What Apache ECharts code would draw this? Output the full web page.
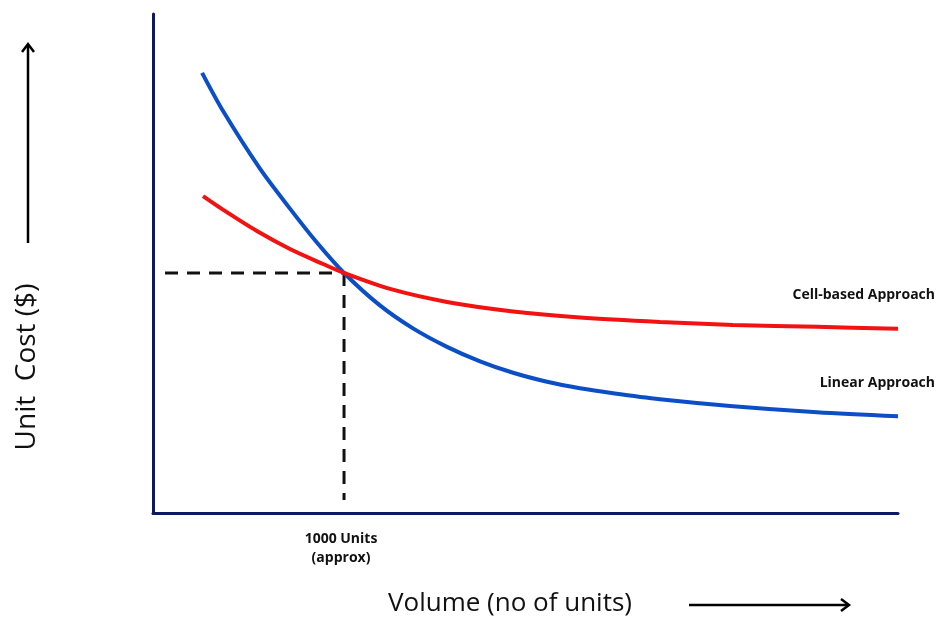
<!DOCTYPE html>
<html>
<head>
<meta charset="utf-8">
<script src="https://cdn.jsdelivr.net/npm/echarts@6/dist/echarts.min.js"></script>
<style>
  html, body { margin: 0; padding: 0; background: #fff; }
  #chart { width: 937px; height: 619px; }
</style>
</head>
<body>
<div id="chart"></div>
<script>
"use strict"
// volume (arbitrary units, crossover at 1000) and unit cost (0-100 scale)
const linearVolume = [257, 366, 560, 717, 858, 1000, 1188, 1361, 1539, 1712, 1885, 2063, 2235, 2408, 2654, 3036, 3476, 3900];
const linearCost   = [88.2, 80.6, 69.0, 61.0, 54.2, 48.1, 41.6, 37.0, 33.3, 30.4, 28.1, 26.3, 25.0, 24.0, 22.8, 21.4, 20.2, 19.4];
const cellVolume = [262, 366, 544, 717, 890, 1000, 1241, 1539, 1885, 2235, 2654, 3036, 3476, 3900];
const cellCost   = [63.5, 60.8, 56.5, 52.9, 49.9, 48.1, 44.9, 42.3, 40.4, 39.2, 38.3, 37.7, 37.3, 36.9];
const crossVolume = 1000;
const crossCost = 48.1;
const guideStart = 63;    // where horizontal dashed line begins
const guideBottom = 2.6;  // where vertical dashed line ends

const axisColor = '#0c1a60';
const font = '"Open Sans", sans-serif';

let chart = echarts.init(document.getElementById("chart"));

function zip(xs, ys) {
    return xs.map(function (x, i) { return [x, ys[i]]; });
}

let option = {
    backgroundColor: '#fff',
    animation: false,
    grid: { left: 153, top: 14, right: 39, bottom: 106 },
    xAxis: {
        type: 'value', min: 0, max: 3900,
        axisLine: { show: true, lineStyle: { color: axisColor, width: 3 } },
        axisTick: { show: false }, axisLabel: { show: false }, splitLine: { show: false }
    },
    yAxis: {
        type: 'value', min: 0, max: 100,
        axisLine: { show: true, lineStyle: { color: axisColor, width: 3 } },
        axisTick: { show: false }, axisLabel: { show: false }, splitLine: { show: false }
    },
    series: [
        {
            name: 'Guide H', type: 'line', symbol: 'none', silent: true,
            data: [[guideStart, crossCost], [crossVolume, crossCost]],
            lineStyle: { color: '#111', width: 3, type: [13, 9] }
        },
        {
            name: 'Guide V', type: 'line', symbol: 'none', silent: true,
            data: [[crossVolume, crossCost], [crossVolume, guideBottom]],
            lineStyle: { color: '#111', width: 3, type: [13, 9] }
        },
        {
            name: 'Linear Approach', type: 'line', symbol: 'none', smooth: 0.3,
            data: zip(linearVolume, linearCost),
            lineStyle: { color: '#0b4ec6', width: 4 }
        },
        {
            name: 'Cell-based Approach', type: 'line', symbol: 'none', smooth: 0.3,
            data: zip(cellVolume, cellCost),
            lineStyle: { color: '#f21212', width: 4 }
        }
    ],
    graphic: [
        { type: 'text', right: 2, top: 288, style: { text: 'Cell-based Approach', font: 'bold 14px ' + font, fill: '#111' } },
        { type: 'text', right: 2, top: 376, style: { text: 'Linear Approach', font: 'bold 14px ' + font, fill: '#111' } },
        { type: 'text', x: 341, y: 539, style: { text: '1000 Units', font: 'bold 14px ' + font, fill: '#111', align: 'center', verticalAlign: 'middle' } },
        { type: 'text', x: 341, y: 558, style: { text: '(approx)', font: 'bold 14px ' + font, fill: '#111', align: 'center', verticalAlign: 'middle' } },
        { type: 'text', x: 388, y: 604, style: { text: 'Volume (no of units)', font: '26px ' + font, fill: '#111', align: 'left', verticalAlign: 'middle' } },
        { type: 'line', shape: { x1: 689, y1: 605, x2: 848, y2: 605 }, style: { stroke: '#000', lineWidth: 2.5 } },
        { type: 'polyline', shape: { points: [[841, 599], [849, 605], [841, 611]] }, style: { stroke: '#000', lineWidth: 2.5, fill: null } },
        { type: 'text', x: 27, y: 367, rotation: Math.PI / 2, style: { text: 'Unit  Cost ($)', font: '28px ' + font, fill: '#111', align: 'center', verticalAlign: 'middle' } },
        { type: 'line', shape: { x1: 28, y1: 243, x2: 28, y2: 45 }, style: { stroke: '#000', lineWidth: 2.5 } },
        { type: 'polyline', shape: { points: [[22, 52], [28, 44], [34, 52]] }, style: { stroke: '#000', lineWidth: 2.5, fill: null } }
    ]
};
chart.setOption(option);
</script>
</body>
</html>
